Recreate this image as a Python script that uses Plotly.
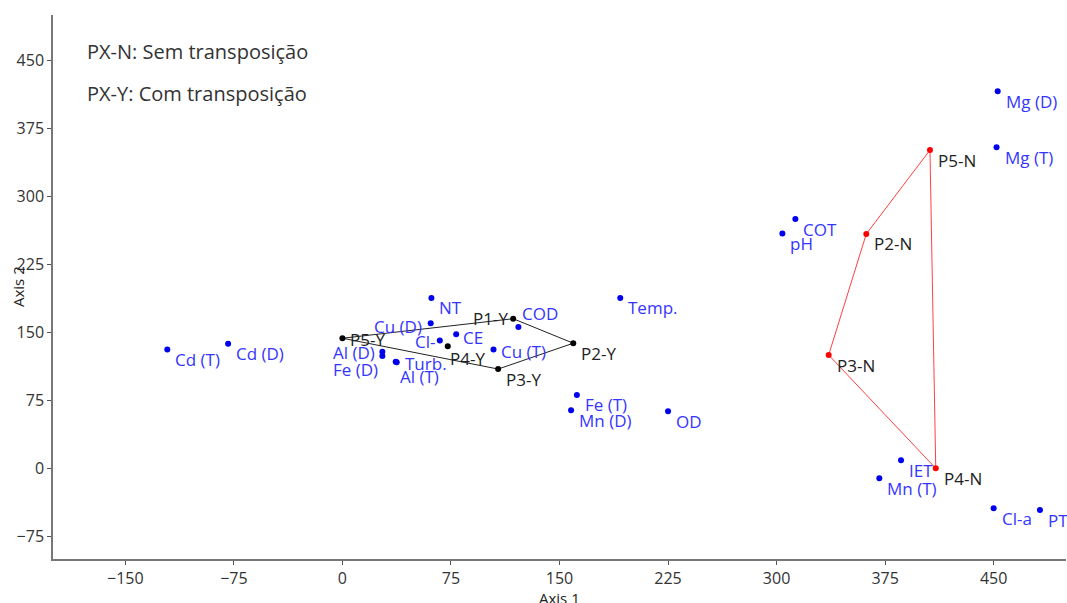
import plotly.graph_objects as go

# Variables (blue points)
var_names = ["Mg (D)", "Mg (T)", "COT", "pH", "Temp.", "NT", "Cu (D)", "COD",
             "CE", "Cl-", "Cu (T)", "Al (D)", "Fe (D)", "Turb.", "Al (T)",
             "Cd (T)", "Cd (D)", "Fe (T)", "Mn (D)", "OD", "IET", "Mn (T)",
             "Cl-a", "PT"]
var_x = [452.8, 452.0, 313.0, 304.0, 192.0, 61.5, 61.0, 121.6,
         78.6, 67.3, 104.4, 27.6, 27.6, 37.5, 36.8,
         -121.0, -79.0, 162.0, 158.0, 225.0, 386.0, 371.0,
         450.0, 482.0]
var_y = [416.0, 354.0, 275.0, 259.0, 188.0, 188.0, 160.0, 156.0,
         148.0, 141.0, 131.0, 128.5, 124.0, 117.0, 117.5,
         131.0, 137.5, 81.0, 64.0, 63.0, 9.0, -11.0,
         -44.0, -46.0]

# Sites without transposition (red)
site_n_names = ["P2-N", "P3-N", "P4-N", "P5-N"]
site_n_x = [362.0, 336.0, 410.0, 406.0]
site_n_y = [258.5, 125.0, 0.0, 351.0]

# Sites with transposition (black)
site_y_names = ["P1-Y", "P2-Y", "P3-Y", "P4-Y", "P5-Y"]
site_y_x = [118.0, 159.5, 107.6, 72.8, 0.0]
site_y_y = [165.0, 138.0, 109.5, 134.6, 143.5]

x_ticks = [-150, -75, 0, 75, 150, 225, 300, 375, 450]
y_ticks = [-75, 0, 75, 150, 225, 300, 375, 450]

# label placement in pixels: (dx right, dy down, anchor)
DEFAULT_OFF = (6, 10, "left")
label_off = {
    "Cu (D)": (-7, 3, "right"),
    "COD": (2, -13, "left"),
    "P1-Y": (-3, 0, "right"),
    "CE": (5, 3, "left"),
    "Cl-": (-3, 1, "right"),
    "P4-Y": (0, 12, "left"),
    "Cu (T)": (5, 2, "left"),
    "P5-Y": (6, 1, "left"),
    "Al (D)": (-5, 1, "right"),
    "Fe (D)": (-2, 14, "right"),
    "Turb.": (6, 1, "left"),
    "Al (T)": (2, 15, "left"),
}


def convex_hull(xs, ys):
    pts = sorted(zip(xs, ys))

    def cross(o, a, b):
        return (a[0] - o[0]) * (b[1] - o[1]) - (a[1] - o[1]) * (b[0] - o[0])

    lower, upper = [], []
    for p in pts:
        while len(lower) >= 2 and cross(lower[-2], lower[-1], p) <= 0:
            lower.pop()
        lower.append(p)
    for p in reversed(pts):
        while len(upper) >= 2 and cross(upper[-2], upper[-1], p) <= 0:
            upper.pop()
        upper.append(p)
    hull = lower[:-1] + upper[:-1]
    hull.append(hull[0])
    return [p[0] for p in hull], [p[1] for p in hull]


FONT = "Open Sans"
BLUE = "#0000ee"
LABEL_BLUE = "#3535ff"
TEXT_DARK = "#333333"

fig = go.Figure()

hx, hy = convex_hull(site_n_x, site_n_y)
fig.add_trace(go.Scatter(x=hx, y=hy, mode="lines",
                         line=dict(color="#ff4040", width=1), hoverinfo="skip"))
hx, hy = convex_hull(site_y_x, site_y_y)
fig.add_trace(go.Scatter(x=hx, y=hy, mode="lines",
                         line=dict(color="#222222", width=1), hoverinfo="skip"))

fig.add_trace(go.Scatter(x=var_x, y=var_y, mode="markers",
                         marker=dict(color=BLUE, size=6)))
fig.add_trace(go.Scatter(x=site_n_x, y=site_n_y, mode="markers",
                         marker=dict(color="#ff0000", size=6)))
fig.add_trace(go.Scatter(x=site_y_x, y=site_y_y, mode="markers",
                         marker=dict(color="#000000", size=6)))

annotations = []


def add_labels(names, xs, ys, color):
    for n, x, y in zip(names, xs, ys):
        dx, dy, anchor = label_off.get(n, DEFAULT_OFF)
        annotations.append(dict(
            x=x, y=y, xref="x", yref="y", text=n, showarrow=False,
            xanchor=anchor, yanchor="middle", xshift=dx, yshift=-dy,
            font=dict(family=FONT, size=17, color=color)))


add_labels(var_names, var_x, var_y, LABEL_BLUE)
add_labels(site_n_names, site_n_x, site_n_y, "#222222")
add_labels(site_y_names, site_y_x, site_y_y, "#222222")

for txt, yy in [("PX-N: Sem transposição", 51), ("PX-Y: Com transposição", 93)]:
    annotations.append(dict(
        x=0, y=1, xref="paper", yref="paper", text=txt, showarrow=False,
        xanchor="left", yanchor="middle", xshift=32, yshift=-(yy - 15),
        font=dict(family=FONT, size=20, color=TEXT_DARK)))

annotations.append(dict(x=0.5, y=0, xref="paper", yref="paper", text="Axis 1",
                        showarrow=False, xanchor="center", yanchor="middle",
                        yshift=-39, font=dict(family=FONT, size=15, color="#222222")))
annotations.append(dict(x=0, y=0.5, xref="paper", yref="paper", text="Axis 2",
                        showarrow=False, xanchor="center", yanchor="middle",
                        xshift=-35, textangle=-90,
                        font=dict(family=FONT, size=15, color="#222222")))

axis_common = dict(showgrid=False, zeroline=False, showline=True,
                   linecolor="#777777", linewidth=1.5, ticks="outside",
                   ticklen=4, tickcolor="#555555", mirror=False,
                   tickfont=dict(family=FONT, size=16, color=TEXT_DARK))

fig.update_layout(
    width=1067, height=603,
    margin=dict(l=53, r=1, t=15, b=44),
    paper_bgcolor="white", plot_bgcolor="white",
    showlegend=False,
    annotations=annotations,
    xaxis=dict(range=[-200, 500], tickvals=x_ticks, **axis_common),
    yaxis=dict(range=[-100, 500], tickvals=y_ticks, **axis_common),
)

fig.write_html("out.html")
